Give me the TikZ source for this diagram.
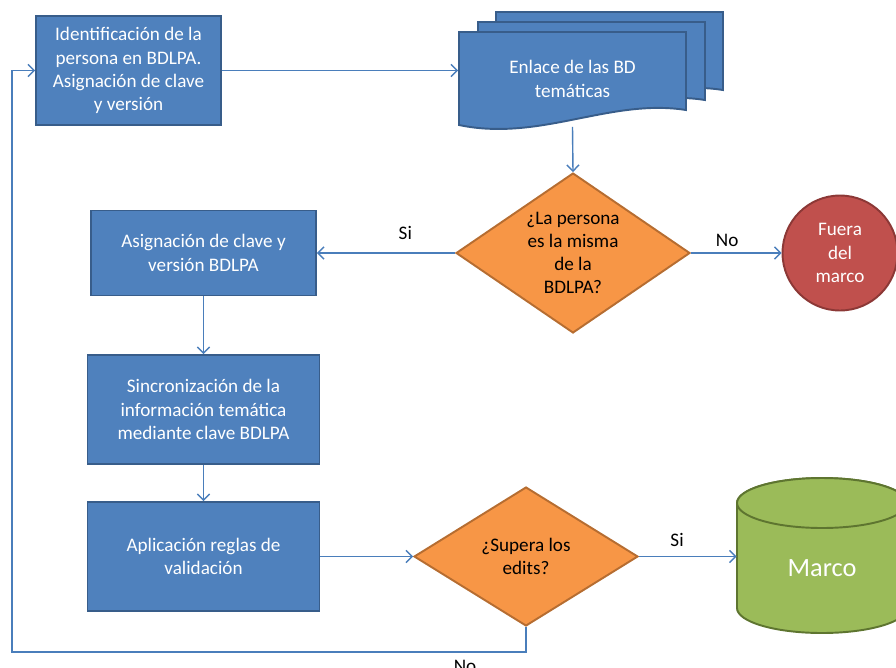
\documentclass[tikz,border=0pt]{standalone}
\usepackage{fontspec}
\setmainfont{Carlito}
\usetikzlibrary{shapes.geometric,arrows.meta}

\definecolor{azul}{HTML}{4F81BD}
\definecolor{bordeazul}{HTML}{385D8A}
\definecolor{linea}{HTML}{4A7EBB}
\definecolor{naranja}{HTML}{F79646}
\definecolor{bordenaranja}{HTML}{B66D31}
\definecolor{rojo}{HTML}{C0504D}
\definecolor{borderojo}{HTML}{8C3836}
\definecolor{verde}{HTML}{9BBB59}
\definecolor{bordeverde}{HTML}{5E7530}

\tikzset{
  texto/.style={font=\fontsize{10.9}{13.2}\selectfont},
  caja/.style={texto, rectangle, fill=azul, draw=bordeazul, line width=1.1pt, text=white, align=center},
  documento/.style={fill=azul, draw=bordeazul, line width=1.1pt},
  rombo/.style={texto, diamond, fill=naranja, draw=bordenaranja, line width=1.1pt, align=center, inner sep=0pt},
  circulo/.style={texto, circle, fill=rojo, draw=borderojo, line width=1.1pt, text=white, align=center},
  cilindro/.style={fill=verde, draw=bordeverde, line width=1.1pt},
  flecha/.style={-{Straight Barb[length=3.5pt,width=7pt]}, draw=linea, line width=0.8pt},
  etiqueta/.style={texto, text=black}
}

\begin{document}
\begin{tikzpicture}[x=0.02cm, y=-0.02cm]
    \useasboundingbox (0,0) rectangle (896,667);

    \node[caja, minimum width=3.7cm, minimum height=2.18cm] (ident) at (128.5,70.5)
        {Identificación de la\\persona en BDLPA.\\Asignación de clave\\y versión};

    \filldraw[documento] (496,12) -- (723,12) -- (723,90) .. controls (647,78) and (577,122) .. (496,105) -- cycle;
    \filldraw[documento] (478,22) -- (705,22) -- (705,100) .. controls (629,88) and (559,132) .. (478,115) -- cycle;
    \filldraw[documento] (459,32) -- (686,32) -- (686,110) .. controls (610,98) and (540,142) .. (459,125) -- cycle;
    \node[caja, fill=none, draw=none, minimum width=4.54cm, minimum height=1.88cm] (enlace) at (572.5,79)
        {Enlace de las BD\\temáticas};

    \node[rombo, aspect=1.46, minimum width=4.68cm, minimum height=3.2cm] (persona) at (573,253)
        {¿La persona\\es la misma\\de la\\BDLPA?};
    \node[circulo, minimum size=2.3cm] (fuera) at (840,253) {Fuera\\del\\marco};

    \node[caja, minimum width=4.5cm, minimum height=1.7cm] (asig) at (203.5,253)
        {Asignación de clave y\\versión BDLPA};
    \node[caja, minimum width=4.64cm, minimum height=2.18cm] (sinc) at (203.5,409.5)
        {Sincronización de la\\información temática\\mediante clave BDLPA};
    \node[caja, minimum width=4.64cm, minimum height=2.18cm] (aplic) at (203.5,556.5)
        {Aplicación reglas de\\validación};

    \node[rombo, aspect=1.6, minimum width=4.48cm, minimum height=2.78cm] (edits) at (526,556.5)
        {¿Supera los\\edits?};

    \filldraw[cilindro] (737,503) -- (737,608) arc[start angle=180, end angle=360, x radius=1.7cm, y radius=0.5cm]
        -- (907,503) arc[start angle=0, end angle=180, x radius=1.7cm, y radius=0.5cm] -- cycle;
    \draw[cilindro] (822,503) ellipse[x radius=1.7cm, y radius=0.5cm];
    \node[text=white, font=\fontsize{15}{18}\selectfont, minimum width=3.4cm] (marco) at (822,568) {Marco};

    \coordinate (vuelta) at (12,652);

    \draw[flecha] (ident.east) -- (enlace.west |- ident.east);
    \draw[flecha] (enlace.south) -- (persona.north);
    \draw[flecha] (persona.west) -- node[etiqueta, above=4pt, pos=0.36] {Si} (asig.east);
    \draw[flecha] (persona.east) -- node[etiqueta, above=0pt, pos=0.4] {No} (fuera.west);
    \draw[flecha] (asig.south) -- (sinc.north);
    \draw[flecha] (sinc.south) -- (aplic.north);
    \draw[flecha] (aplic.east) -- (edits.west);
    \draw[flecha] (edits.east) -- node[etiqueta, above=2pt, pos=0.39] {Si} (edits.east -| marco.west);
    \draw[flecha] (edits.south) |- (vuelta) |- (ident.west);
    \node[etiqueta, anchor=north] (no) at (465,654) {No};
\end{tikzpicture}
\end{document}
